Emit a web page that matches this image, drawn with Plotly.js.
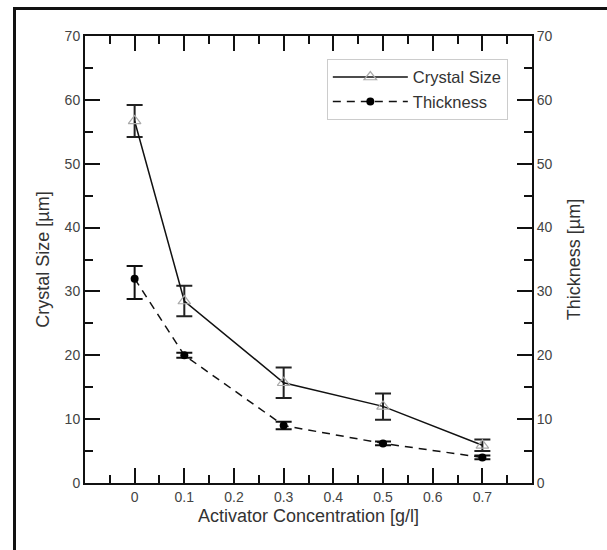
<!DOCTYPE html>
<html>
<head>
<meta charset="utf-8">
<script src="https://cdn.plot.ly/plotly-3.0.1.min.js"></script>
<style>
html,body{margin:0;padding:0;background:#fff;}
#wrap{position:relative;width:607px;height:550px;overflow:hidden;}
#chart{position:absolute;left:0;top:0;width:607px;height:550px;}
#frame{position:absolute;left:13px;top:7px;width:700px;height:700px;border-left:3px solid #111;border-top:3px solid #111;pointer-events:none;z-index:10;}
</style>
</head>
<body>
<div id="wrap"><div id="chart"></div><div id="frame"></div></div>
<script>
// Data
const concentration = [0, 0.1, 0.3, 0.5, 0.7];
const crystalSize = [56.7, 28.5, 15.7, 12.0, 5.9];
const crystalErrPlus = [2.5, 2.4, 2.4, 2.0, 0.9];
const crystalErrMinus = [2.5, 2.4, 2.4, 2.1, 0.9];
const thickness = [32.0, 20.0, 9.0, 6.2, 4.0];
const thickErrPlus = [2.0, 0.4, 0.6, 0.3, 0.3];
const thickErrMinus = [3.2, 0.4, 0.6, 0.3, 0.3];
const xRange = [-0.0999, 0.7999];
const yRange = [0, 70];

const FONT = 'Liberation Sans, Arial, sans-serif';

function carrier(xa) {
  // invisible trace that only makes an extra tick axis render
  return {x: concentration, y: crystalSize, type: 'scatter', mode: 'markers',
          marker: {opacity: 0}, showlegend: false, hoverinfo: 'skip', xaxis: xa, yaxis: 'y'};
}

const traces = [
  {
    x: concentration, y: crystalSize, name: 'Crystal Size',
    type: 'scatter', mode: 'lines+markers',
    line: {color: '#111', width: 1.5, dash: 'solid'},
    marker: {symbol: 'triangle-up-open', size: 11, color: '#aaa', line: {width: 1.2}},
    error_y: {type: 'data', symmetric: false, array: crystalErrPlus, arrayminus: crystalErrMinus,
              color: '#222', thickness: 2, width: 8},
    xaxis: 'x', yaxis: 'y'
  },
  {
    x: concentration, y: thickness, name: 'Thickness',
    type: 'scatter', mode: 'lines+markers',
    line: {color: '#111', width: 1.5, dash: '8px,6px'},
    marker: {symbol: 'circle', size: 8, color: '#000'},
    error_y: {type: 'data', symmetric: false, array: thickErrPlus, arrayminus: thickErrMinus,
              color: '#111', thickness: 2, width: 8},
    xaxis: 'x', yaxis: 'y2'
  },
  carrier('x2'), carrier('x3'), carrier('x4')
];

function axisBase() {
  return {
    showgrid: false, zeroline: false, showline: true, linecolor: '#111', linewidth: 2,
    ticks: 'inside', ticklen: 15, tickwidth: 2, tickcolor: '#111',
    tickfont: {family: FONT, size: 14, color: '#444'}
  };
}
function minorXAxis(side) {
  return {range: xRange, overlaying: 'x', side: side, tickmode: 'linear', tick0: -0.05, dtick: 0.1,
          showgrid: false, zeroline: false, showline: false, showticklabels: false,
          ticks: 'inside', ticklen: 8, tickwidth: 2, tickcolor: '#111'};
}
function minorY() { return {dtick: 5, tick0: 0, ticks: 'inside', ticklen: 8, tickwidth: 2, tickcolor: '#111', showgrid: false}; }
const titleFont = {family: FONT, size: 18, color: '#333'};

const layout = {
  width: 607, height: 550,
  margin: {l: 85, r: 75, t: 36, b: 67},
  paper_bgcolor: '#fff', plot_bgcolor: '#fff',
  font: {family: FONT, color: '#444'},
  showlegend: true,
  legend: {
    x: 0.541, y: 0.949, xanchor: 'left', yanchor: 'top',
    bordercolor: '#ccc', borderwidth: 1, bgcolor: '#fff',
    itemwidth: 75,
    font: {family: FONT, size: 16.5, color: '#333'}
  },
  xaxis: Object.assign(axisBase(), {
    range: xRange, tickmode: 'linear', tick0: 0, dtick: 0.1,
    title: {text: 'Activator Concentration [g/l]', font: titleFont, standoff: 6}
  }),
  xaxis2: Object.assign(axisBase(), {
    range: xRange, tickmode: 'linear', tick0: 0, dtick: 0.1, overlaying: 'x', side: 'top',
    showticklabels: false
  }),
  xaxis3: minorXAxis('bottom'),
  xaxis4: minorXAxis('top'),
  yaxis: Object.assign(axisBase(), {
    range: yRange, dtick: 10, tick0: 0,
    minor: minorY(),
    title: {text: 'Crystal Size [µm]', font: titleFont, standoff: 10}
  }),
  yaxis2: Object.assign(axisBase(), {
    range: yRange, dtick: 10, tick0: 0, overlaying: 'y', side: 'right',
    minor: minorY(),
    title: {text: 'Thickness [µm]', font: titleFont, standoff: 16}
  })
};

Plotly.newPlot('chart', traces, layout, {displayModeBar: false, staticPlot: true});
</script>
</body>
</html>
